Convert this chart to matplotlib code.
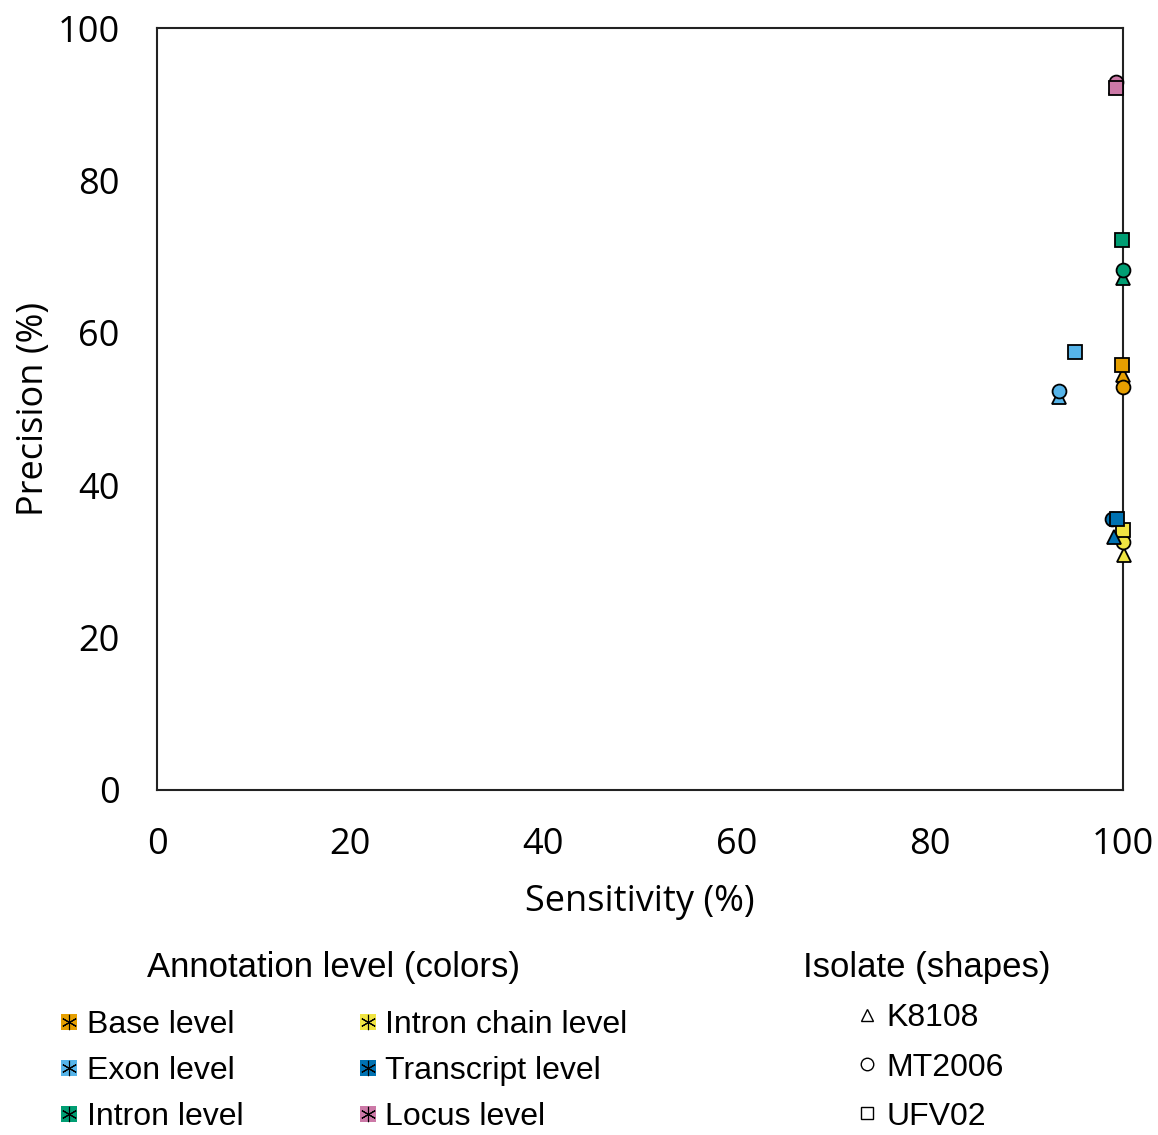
import matplotlib
matplotlib.use("Agg")
import matplotlib.pyplot as plt
from matplotlib.lines import Line2D
from matplotlib.legend_handler import HandlerTuple

levels = ["Base level", "Exon level", "Intron level", "Intron chain level", "Transcript level", "Locus level"]
level_colors = ["#E69F00", "#56B4E9", "#009E73", "#F0E442", "#0072B2", "#CC79A7"]
isolates = ["K8108", "MT2006", "UFV02"]
isolate_markers = ["^", "o", "s"]

# sensitivity (%) per level, per isolate [K8108, MT2006, UFV02]
sensitivity = {
    "Base level":         [100.0, 100.0, 99.9],
    "Exon level":         [93.4, 93.4, 95.0],
    "Intron level":       [100.0, 100.0, 99.9],
    "Intron chain level": [100.1, 100.0, 100.0],
    "Transcript level":   [99.1, 98.9, 99.4],
    "Locus level":        [99.3, 99.3, 99.3],
}
precision = {
    "Base level":         [54.5, 52.9, 55.8],
    "Exon level":         [51.6, 52.4, 57.5],
    "Intron level":       [67.2, 68.2, 72.2],
    "Intron chain level": [30.8, 32.5, 34.1],
    "Transcript level":   [33.2, 35.6, 35.6],
    "Locus level":        [92.3, 92.9, 92.1],
}

x_ticks = [0, 20, 40, 60, 80, 100]
y_ticks = [0, 20, 40, 60, 80, 100]

fig = plt.figure(figsize=(11.58, 11.35), dpi=100)
ax = fig.add_axes([0.1356, 0.304, 0.8342, 0.6713])

tick_font = "Open Sans"
for lvl, col in zip(levels, level_colors):
    for i, mk in enumerate(isolate_markers):
        ax.plot(sensitivity[lvl][i], precision[lvl][i], marker=mk, color=col,
                markeredgecolor="black", markeredgewidth=1.3, markersize=10,
                linestyle="none", clip_on=False, zorder=3)

ax.set_xlim(0, 100)
ax.set_ylim(0, 100)
ax.set_xticks(x_ticks)
ax.set_yticks(y_ticks)
ax.set_xticklabels([str(t) for t in x_ticks], fontsize=26, family=tick_font)
ax.set_yticklabels([str(t) for t in y_ticks], fontsize=26, family=tick_font)
ax.tick_params(axis="x", length=0, pad=27)
ax.tick_params(axis="y", length=0, pad=27)
for sp in ax.spines.values():
    sp.set_linewidth(1.5)
    sp.set_color("#222222")
ax.set_xlabel("Sensitivity (%)", fontsize=26, family=tick_font, labelpad=15)
ax.set_ylabel("Precision (%)", fontsize=26, family=tick_font, labelpad=4)

# colors legend
color_handles = []
for col in level_colors:
    sq = Line2D([], [], marker="s", color=col, markersize=11, linestyle="none", markeredgewidth=0)
    xx = Line2D([], [], marker=(6, 2, 0), color="black", markersize=11, linestyle="none", markeredgewidth=0.8)
    color_handles.append((sq, xx))
leg1 = fig.legend(color_handles, levels, ncol=2, loc="upper left",
                  bbox_to_anchor=(0.0528, 0.110), frameon=False,
                  handler_map={tuple: HandlerTuple(ndivide=1, pad=0)},
                  prop={"family": "Liberation Sans", "size": 23},
                  handlelength=0.5, handletextpad=0.3, columnspacing=3.65,
                  labelspacing=0.5, borderaxespad=0, borderpad=0)

shape_handles = [Line2D([], [], marker=m, color="white", markeredgecolor="black",
                        markeredgewidth=1, markersize=9, linestyle="none")
                 for m in isolate_markers]
leg2 = fig.legend(shape_handles, isolates, loc="upper left",
                  bbox_to_anchor=(0.742, 0.116), frameon=False,
                  prop={"family": "Liberation Sans", "size": 23},
                  handlelength=0.5, handletextpad=0.35, labelspacing=0.6,
                  borderaxespad=0, borderpad=0)

fig.text(0.288, 0.148, "Annotation level (colors)", ha="center", va="center",
         fontsize=25, family="Liberation Sans")
fig.text(0.800, 0.148, "Isolate (shapes)", ha="center", va="center",
         fontsize=25, family="Liberation Sans")

fig.savefig("out.png", dpi=100)
